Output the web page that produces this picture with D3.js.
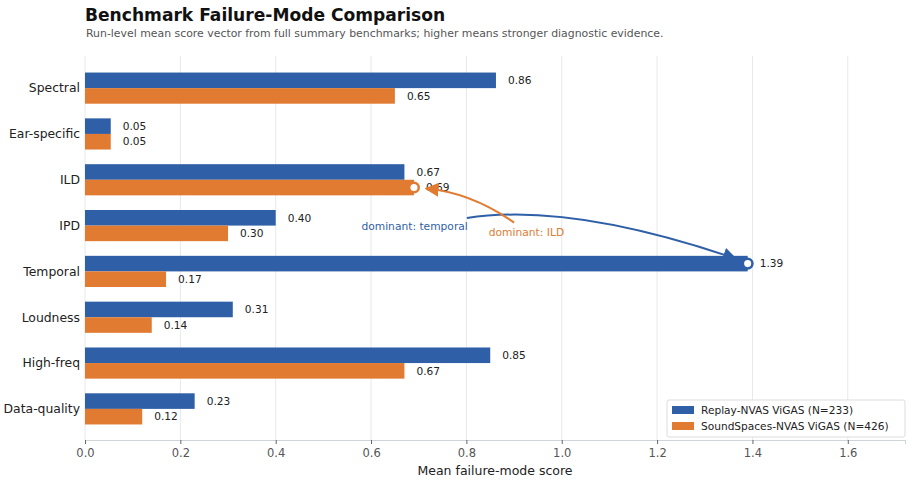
<!DOCTYPE html>
<html>
<head>
<meta charset="utf-8">
<script src="https://cdn.jsdelivr.net/npm/d3@7"></script>
<style>
  body { margin: 0; background: #fff; }
  svg { font-family: "DejaVu Sans", sans-serif; }
</style>
</head>
<body>
<svg id="chart" width="912" height="482"></svg>
<script>
"use strict";

// data
const categories = [ "Spectral", "Ear-specific", "ILD", "IPD", "Temporal", "Loudness", "High-freq", "Data-quality" ];
const replayScores = [ 0.862, 0.054, 0.67, 0.40, 1.39, 0.31, 0.85, 0.23 ];
const soundSpacesScores = [ 0.65, 0.054, 0.69, 0.30, 0.17, 0.14, 0.67, 0.12 ];
const seriesNames = [ "Replay-NVAS ViGAS (N=233)", "SoundSpaces-NVAS ViGAS (N=426)" ];
const xTicks = [ 0, 0.2, 0.4, 0.6, 0.8, 1.0, 1.2, 1.4, 1.6 ];

const colors = [ "#2f5fa7", "#e07b31" ];

const margin = { top: 56, right: 7, bottom: 42, left: 85 },
      width  = 912 - margin.left - margin.right,
      height = 482 - margin.top - margin.bottom;

const svg = d3.select( "#chart" );

// title
svg.append( "text" )
    .attr( "x", 85 ).attr( "y", 21 )
    .style( "font-size", "17.1px" ).style( "font-weight", "bold" ).attr( "fill", "#111" )
    .text( "Benchmark Failure-Mode Comparison" );
svg.append( "text" )
    .attr( "x", 86 ).attr( "y", 37 )
    .style( "font-size", "10.9px" ).attr( "fill", "#555" )
    .text( "Run-level mean score vector from full summary benchmarks; higher means stronger diagnostic evidence." );

const g = svg.append( "g" )
    .attr( "transform", "translate(" + margin.left + "," + margin.top + ")" );

// scales
const x = d3.scaleLinear().domain([ 0, 1.72 ]).range([ 0, width ]);
const y = d3.scaleBand().domain( categories ).range([ 0, height ])
    .paddingInner( 0 ).paddingOuter( 0.19 );
const barH = y.bandwidth() * 0.34;
const mid = (c) => y( c ) + y.bandwidth() / 2 + 0.5;

// grid
g.append( "g" )
  .selectAll( "line" )
  .data( xTicks )
  .enter().append( "line" )
    .attr( "x1", (d) => x( d ) ).attr( "x2", (d) => x( d ) )
    .attr( "y1", 0 ).attr( "y2", height )
    .attr( "stroke", "#e6e8ec" ).attr( "stroke-width", 1 );

// x-axis
const xAxis = g.append( "g" )
    .attr( "transform", "translate(0," + height + ")" )
    .call( d3.axisBottom( x ).tickValues( xTicks ).tickFormat( d3.format( ".1f" ) ).tickSize( 4 ).tickPadding( 5 ) );
xAxis.select( ".domain" ).attr( "stroke", "#cfd3da" );
xAxis.selectAll( ".tick line" ).attr( "stroke", "#666" );
xAxis.selectAll( ".tick text" )
    .style( "font-size", "11.5px" ).style( "font-family", "DejaVu Sans, sans-serif" ).attr( "fill", "#555" );

g.append( "text" )
    .attr( "x", width / 2 ).attr( "y", height + 35 )
    .attr( "text-anchor", "middle" )
    .style( "font-size", "12.5px" ).attr( "fill", "#222" )
    .text( "Mean failure-mode score" );

// category labels
g.append( "g" )
  .selectAll( "text" )
  .data( categories )
  .enter().append( "text" )
    .attr( "x", -5 ).attr( "y", (d) => mid( d ) )
    .attr( "dy", "0.35em" ).attr( "text-anchor", "end" )
    .style( "font-size", "12.4px" ).attr( "fill", "#222" )
    .text( (d) => d );

// bars
const series = [ replayScores, soundSpacesScores ];
series.forEach( (vals, s) => {
  const rows = categories.map( (c, i) => ({ c: c, v: vals[i] }) );
  g.append( "g" )
    .selectAll( "rect" )
    .data( rows )
    .enter().append( "rect" )
      .attr( "x", 0 )
      .attr( "y", (d) => mid( d.c ) - barH + s * barH )
      .attr( "width", (d) => x( d.v ) )
      .attr( "height", barH )
      .attr( "fill", colors[s] );
  g.append( "g" )
    .selectAll( "text" )
    .data( rows )
    .enter().append( "text" )
      .attr( "x", (d) => x( d.v ) + 12 )
      .attr( "y", (d) => mid( d.c ) - barH / 2 + s * barH )
      .attr( "dy", "0.35em" )
      .style( "font-size", "10.6px" ).attr( "fill", "#222" )
      .text( (d) => d.v.toFixed( 2 ) );
});

// annotations
const defs = svg.append( "defs" );
colors.forEach( (col, i) => {
  defs.append( "marker" )
      .attr( "id", "arr" + i )
      .attr( "viewBox", "0 0 10 10" ).attr( "refX", 9 ).attr( "refY", 5 )
      .attr( "markerWidth", 7 ).attr( "markerHeight", 7 )
      .attr( "orient", "auto-start-reverse" )
    .append( "path" ).attr( "d", "M0,0 L10,5 L0,10 z" ).attr( "fill", col );
});

const tIdx = categories.indexOf( "Temporal" ),
      iIdx = categories.indexOf( "ILD" );
const tEnd = [ x( replayScores[tIdx] ), mid( "Temporal" ) - barH / 2 ],
      iEnd = [ x( soundSpacesScores[iIdx] ), mid( "ILD" ) + barH / 2 ];

// dominant: temporal (Replay)
const tStart = [ x( 0.801 ), mid( "IPD" ) - 7.5 ];
g.append( "path" )
    .attr( "d", "M" + tStart + " Q" + [ x( 1.017 ), tStart[1] - 16 ] + " " + [ tEnd[0] - 12, tEnd[1] - 5 ] )
    .attr( "fill", "none" ).attr( "stroke", colors[0] ).attr( "stroke-width", 2 )
    .attr( "marker-end", "url(#arr0)" );
g.append( "text" )
    .attr( "x", x( 0.803 ) ).attr( "y", mid( "IPD" ) + 1 )
    .attr( "dy", "0.35em" ).attr( "text-anchor", "end" )
    .style( "font-size", "10.7px" ).attr( "fill", colors[0] )
    .text( "dominant: temporal" );

// dominant: ILD (SoundSpaces)
const iStart = [ x( 0.9 ), mid( "IPD" ) - 3 ];
g.append( "path" )
    .attr( "d", "M" + iStart + " Q" + [ x( 0.81 ), iEnd[1] + 5 ] + " " + [ iEnd[0] + 12, iEnd[1] + 1 ] )
    .attr( "fill", "none" ).attr( "stroke", colors[1] ).attr( "stroke-width", 2 )
    .attr( "marker-end", "url(#arr1)" );
g.append( "text" )
    .attr( "x", x( 0.847 ) ).attr( "y", mid( "IPD" ) + 7 )
    .attr( "dy", "0.35em" )
    .style( "font-size", "10.7px" ).attr( "fill", colors[1] )
    .text( "dominant: ILD" );

// markers at the annotated bar ends
[ [ tEnd, colors[0] ], [ iEnd, colors[1] ] ].forEach( (m) => {
  g.append( "circle" )
      .attr( "cx", m[0][0] ).attr( "cy", m[0][1] ).attr( "r", 4.8 )
      .attr( "fill", "#fff" ).attr( "stroke", m[1] ).attr( "stroke-width", 2.5 );
});

// legend
const lg = svg.append( "g" ).attr( "transform", "translate(667,400)" );
lg.append( "rect" )
    .attr( "width", 238 ).attr( "height", 37 ).attr( "rx", 2 )
    .attr( "fill", "#fff" ).attr( "fill-opacity", 0.9 ).attr( "stroke", "#ddd" );
seriesNames.forEach( (name, i) => {
  lg.append( "rect" )
      .attr( "x", 5 ).attr( "y", 6 + i * 16 ).attr( "width", 22 ).attr( "height", 8 )
      .attr( "fill", colors[i] );
  lg.append( "text" )
      .attr( "x", 34 ).attr( "y", 10 + i * 16 ).attr( "dy", "0.35em" )
      .style( "font-size", "10.6px" ).attr( "fill", "#222" )
      .text( name );
});
</script>
</body>
</html>
